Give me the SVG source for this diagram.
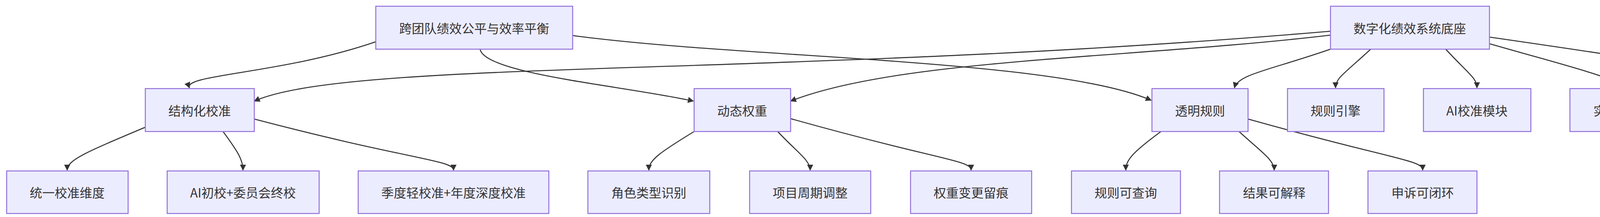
<svg xmlns="http://www.w3.org/2000/svg" width="4663" height="556" viewBox="0 0 4663 556">
<style>
.n rect{fill:#ECECFF;stroke:#9370DB;stroke-width:2.5}
.n text{font-family:"Noto Sans CJK SC","Liberation Sans",sans-serif;font-size:32px;fill:#333;text-anchor:middle;dominant-baseline:central}
#edges path{fill:none;stroke:#333;stroke-width:2.6;marker-end:url(#arr)}
</style>
<defs><marker id="arr" viewBox="0 0 10 10" refX="9" refY="5" markerWidth="6" markerHeight="6" orient="auto" markerUnits="strokeWidth"><path d="M0,0L10,5L0,10z" fill="#333"/></marker></defs>
<rect width="4663" height="556" fill="#fff"/>
<g id="edges">
<path d="M962,107 C720,190 470,190 485,225"/>
<path d="M1229,126 C1240,190 1600,220 1775,259"/>
<path d="M1466,91 C1900,150 2700,150 2947,257"/>
<path d="M3406,80 C2000,200 900,150 651,259"/>
<path d="M3406,90 C2900,150 2300,150 2024,259"/>
<path d="M3406,126 C3250,180 3170,190 3160,225"/>
<path d="M3509,126 C3440,190 3419,200 3419,225"/>
<path d="M3701,126 C3760,190 3781,200 3781,225"/>
<path d="M3813,112 C4050,180 4143,200 4143,225"/>
<path d="M3813,95 C4400,180 4507,200 4507,225"/>
<path d="M372,326 C220,390 172,410 172,436"/>
<path d="M571,337 C610,390 622,410 622,436"/>
<path d="M651,305 C1050,410 1161,410 1161,436"/>
<path d="M1777,337 C1690,390 1661,410 1661,436"/>
<path d="M1991,337 C2040,390 2074,410 2074,436"/>
<path d="M2024,304 C2400,410 2486,410 2486,436"/>
<path d="M2972,337 C2900,390 2882,410 2882,436"/>
<path d="M3172,337 C3230,390 3262,410 3262,436"/>
<path d="M3195,305 C3570,410 3642,410 3642,436"/>
</g>
<g id="nA" class="n"><rect x="962" y="16" width="504" height="110"/><text x="1214" y="71">跨团队绩效公平与效率平衡</text></g>
<g id="nB" class="n"><rect x="3406" y="16" width="407" height="110"/><text x="3609" y="71">数字化绩效系统底座</text></g>
<g id="nC" class="n"><rect x="372" y="227" width="279" height="110"/><text x="511" y="282">结构化校准</text></g>
<g id="nD" class="n"><rect x="1777" y="227" width="247" height="110"/><text x="1900" y="282">动态权重</text></g>
<g id="nE" class="n"><rect x="2949" y="227" width="246" height="110"/><text x="3072" y="282">透明规则</text></g>
<g id="nF" class="n"><rect x="3296" y="227" width="247" height="110"/><text x="3419" y="282">规则引擎</text></g>
<g id="nG" class="n"><rect x="3644" y="227" width="275" height="110"/><text x="3781" y="282">AI校准模块</text></g>
<g id="nH" class="n"><rect x="4019" y="227" width="248" height="110"/><text x="4143" y="282">实时看板</text></g>
<g id="nI" class="n"><rect x="4367" y="227" width="280" height="110"/><text x="4507" y="282">申诉工作流</text></g>
<g id="nJ" class="n"><rect x="17" y="438" width="311" height="109"/><text x="172" y="492">统一校准维度</text></g>
<g id="nK" class="n"><rect x="428" y="438" width="389" height="109"/><text x="622" y="492">AI初校+委员会终校</text></g>
<g id="nL" class="n"><rect x="917" y="438" width="488" height="109"/><text x="1161" y="492">季度轻校准+年度深度校准</text></g>
<g id="nM" class="n"><rect x="1505" y="438" width="312" height="109"/><text x="1661" y="492">角色类型识别</text></g>
<g id="nN" class="n"><rect x="1919" y="438" width="310" height="109"/><text x="2074" y="492">项目周期调整</text></g>
<g id="nO" class="n"><rect x="2331" y="438" width="310" height="109"/><text x="2486" y="492">权重变更留痕</text></g>
<g id="nP" class="n"><rect x="2743" y="438" width="279" height="109"/><text x="2882" y="492">规则可查询</text></g>
<g id="nQ" class="n"><rect x="3122" y="438" width="279" height="109"/><text x="3262" y="492">结果可解释</text></g>
<g id="nR" class="n"><rect x="3502" y="438" width="279" height="109"/><text x="3642" y="492">申诉可闭环</text></g>
</svg>
